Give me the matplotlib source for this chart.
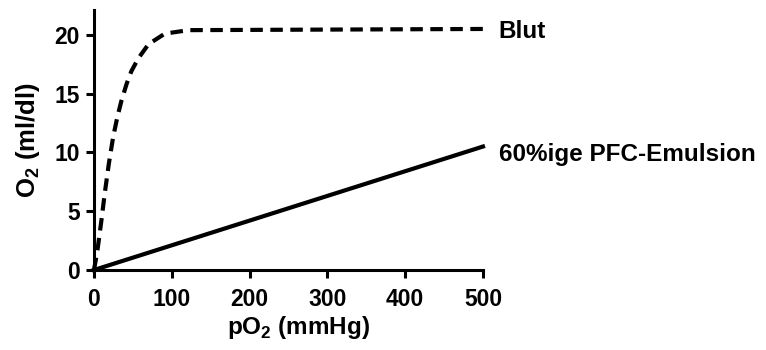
import matplotlib
matplotlib.use("Agg")
import matplotlib.pyplot as plt

plt.rcParams['font.family'] = ['Liberation Sans', 'DejaVu Sans']
plt.rcParams['font.weight'] = 'bold'
plt.rcParams['mathtext.fontset'] = 'custom'
plt.rcParams['mathtext.rm'] = 'Liberation Sans:bold'
plt.rcParams['mathtext.bf'] = 'Liberation Sans:bold'

blut_x = [0, 4.3, 9.5, 13.8, 19, 24.6, 30, 35.3, 41.8, 48, 57, 70, 91, 121.5, 500]
blut_y = [0, 1.6, 4.2, 6.5, 9.0, 11.3, 13.0, 14.4, 15.8, 16.9, 18.0, 19.2, 20.1, 20.4, 20.5]
pfc_x = [0, 500]
pfc_y = [0, 10.5]
x_ticks = [0, 100, 200, 300, 400, 500]
y_ticks = [0, 5, 10, 15, 20]
labels = ["Blut", "60%ige PFC-Emulsion"]

fig = plt.figure(figsize=(7.66, 3.5), dpi=100)
ax = fig.add_axes([0.1227, 0.2286, 0.5078, 0.7424])
ax.plot(blut_x, blut_y, color='black', lw=3, linestyle=(0, (3, 1.8)), clip_on=False)
ax.plot(pfc_x, pfc_y, color='black', lw=3, clip_on=False)
ax.set_xlim(0, 500)
ax.set_ylim(0, 22.1)
ax.set_xticks(x_ticks)
ax.set_yticks(y_ticks)
for s in ['top', 'right']:
    ax.spines[s].set_visible(False)
for s in ['left', 'bottom']:
    ax.spines[s].set_linewidth(2.2)
ax.tick_params(width=2.2, length=6, labelsize=16.5)
ax.tick_params(axis='x', pad=7)
ax.tick_params(axis='y', pad=4)
for t in ax.get_xticklabels() + ax.get_yticklabels():
    t.set_fontweight('bold')
ax.set_xlabel('pO$_\\mathrm{2}$ (mmHg)', fontsize=17.5, fontweight='bold', labelpad=2)
ax.xaxis.label.set_x(0.527)
ax.set_ylabel('O$_\\mathrm{2}$ (ml/dl)', fontsize=18.5, fontweight='bold', labelpad=9)
ax.text(520, 20.5, labels[0], fontsize=17.5, fontweight='bold', va='center_baseline', ha='left', clip_on=False)
ax.text(520, 10.0, labels[1], fontsize=17.5, fontweight='bold', va='center_baseline', ha='left', clip_on=False)
fig.savefig('out.png', dpi=100)
